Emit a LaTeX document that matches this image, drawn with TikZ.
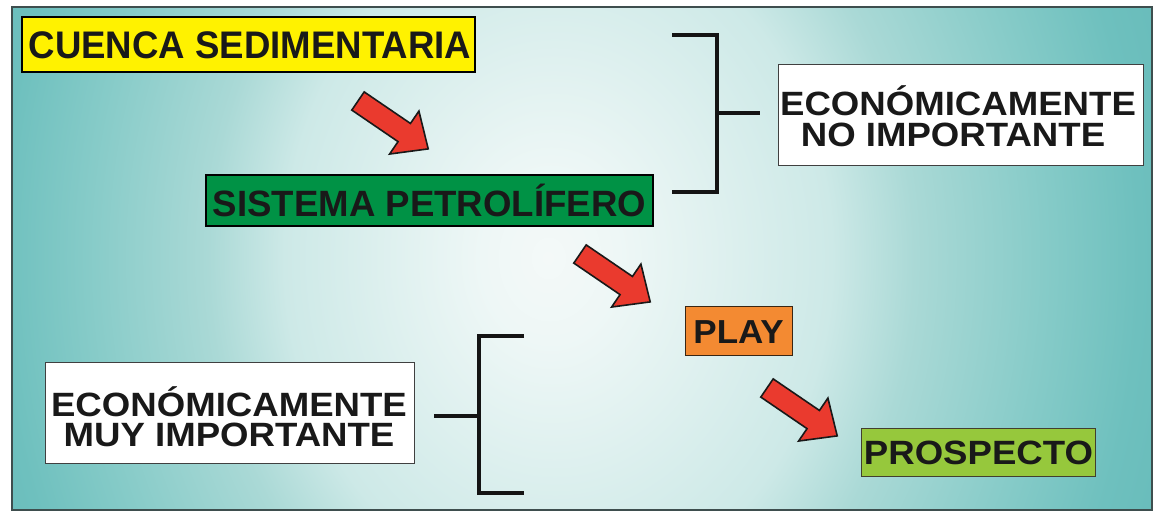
\documentclass[tikz,border=0pt]{standalone}
\usepackage{fontspec}
\setmainfont{Liberation Sans}
\definecolor{bgc0}{HTML}{F4F9F8}
\definecolor{bgc1}{HTML}{EEF7F6}
\definecolor{bgc2}{HTML}{CDE9E7}
\definecolor{bgc3}{HTML}{AAD9D6}
\definecolor{bgc4}{HTML}{86CBC8}
\definecolor{bgc5}{HTML}{6EC0BE}
\definecolor{bgc6}{HTML}{62B8B7}
\definecolor{framec}{HTML}{3E4E4E}
\definecolor{cyellow}{HTML}{FFF200}
\definecolor{cgreen}{HTML}{009245}
\definecolor{corange}{HTML}{F38A32}
\definecolor{clime}{HTML}{96C83C}
\definecolor{cred}{HTML}{EA3A2E}
\pgfdeclareradialshading{bgrad}{\pgfpoint{-1.5bp}{0bp}}{color(0bp)=(bgc0); color(3bp)=(bgc1); color(12bp)=(bgc2); color(15.5bp)=(bgc3); color(21bp)=(bgc4); color(25bp)=(bgc5); color(30bp)=(bgc6); color(40bp)=(bgc6)}
\tikzset{
  box/.style={draw=black, line width=1.3pt, inner sep=0pt},
  wbox/.style={draw=black!75, line width=1pt, fill=white, inner sep=0pt},
  lbl/.style={font=\fontsize{36.6}{36.6}\selectfont\bfseries, text=black!90, inner sep=0pt, anchor=base},
  brk/.style={draw=black!92, line width=3.2pt, line join=miter, line cap=butt},
  fatarrow/.pic={\filldraw[fill=cred, draw=black!90, line width=1.6pt, line join=miter]
     (0,-11) -- (56,-11) -- (56,-26) -- (85,0) -- (56,26) -- (56,11) -- (0,11) -- cycle;}
}
\begin{document}
\begin{tikzpicture}[x=1pt,y=-1pt]
\useasboundingbox (0,0) rectangle (1160,518);
\fill[white] (0,0) rectangle (1160,518);
\begin{scope}
\clip (12,7) rectangle (1152,510);
\shade[shading=bgrad] (12,-442) rectangle (1152,958);
\end{scope}
\draw[framec, line width=1.6pt] (12,7) rectangle (1152,510);

% boxes
\node[box, fill=cyellow, minimum width=453pt, minimum height=55pt] (cuenca) at (248.5,44.5) {};
\node[box, fill=cgreen, minimum width=447pt, minimum height=51pt] (sistema) at (429.5,200.5) {};
\node[box, draw=black!70!brown, line width=1pt, fill=corange, minimum width=107pt, minimum height=49pt] (play) at (738.5,331.5) {};
\node[box, draw=black!70!olive, line width=1pt, fill=clime, minimum width=234pt, minimum height=48pt] (prospecto) at (978,453) {};
\node[wbox, minimum width=365pt, minimum height=101pt] (noimp) at (960.5,115.5) {};
\node[wbox, minimum width=369pt, minimum height=101pt] (muyimp) at (229.5,413.5) {};

% labels
\node[lbl] (cuencaT) at (250,58.5) {\scalebox{1}[1.05]{CUENCA SEDIMENTARIA}};
\node[lbl] (sistemaT) at (429.5,216.7) {SISTEMA PETROLÍFERO};
\node[lbl, font=\fontsize{35}{35}\selectfont\bfseries] (playT) at (738.5,344) {\scalebox{1}[0.95]{PLAY}};
\node[lbl] (prospectoT) at (978.5,465) {\scalebox{1}[0.92]{PROSPECTO}};
\node[lbl] (noimpA) at (958,116) {\scalebox{1}[0.92]{ECONÓMICAMENTE}};
\node[lbl] (noimpB) at (953,147) {\scalebox{1}[0.92]{NO IMPORTANTE}};
\node[lbl] (muyimpA) at (229,416.5) {\scalebox{1}[0.92]{ECONÓMICAMENTE}};
\node[lbl] (muyimpB) at (229,447) {\scalebox{1}[0.92]{MUY IMPORTANTE}};

% arrows
\pic[rotate=-34.3] (arrowA) at (358,101) {fatarrow};
\pic[rotate=-34.3] (arrowB) at (580,254) {fatarrow};
\pic[rotate=-34.3] (arrowC) at (767,388) {fatarrow};

% top bracket
\coordinate (tb1) at (672,35);
\coordinate (tb2) at (717,35);
\coordinate (tb3) at (717,192);
\coordinate (tb4) at (672,192);
\coordinate (tbm) at (717,113);
\coordinate (tbs) at (760,113);
\draw[brk] (tb1) -- (tb2) -- (tb3) -- (tb4);
\draw[brk] (tbm) -- (tbs);

% bottom bracket
\coordinate (bb1) at (524,336);
\coordinate (bb2) at (479,336);
\coordinate (bb3) at (479,493);
\coordinate (bb4) at (524,493);
\coordinate (bbm) at (479,416);
\coordinate (bbs) at (434,416);
\draw[brk] (bb1) -- (bb2) -- (bb3) -- (bb4);
\draw[brk] (bbm) -- (bbs);
\end{tikzpicture}
\end{document}
